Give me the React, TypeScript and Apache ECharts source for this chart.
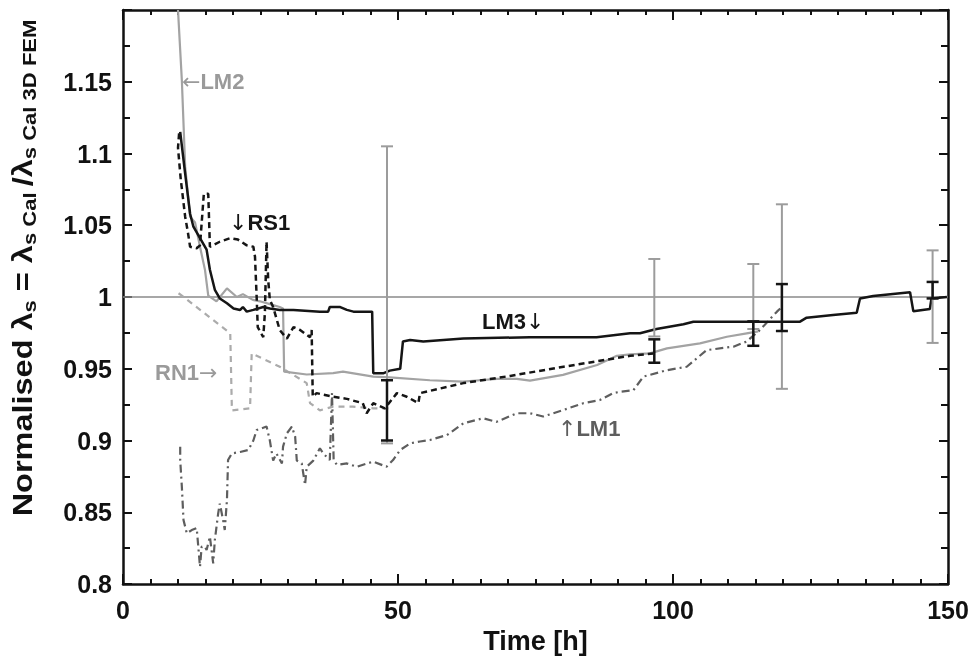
import { useEffect, useRef } from 'react';
import * as echarts from 'echarts';

const FONT = '"Liberation Sans", Arial, Helvetica, sans-serif';
const ARROW_FONT = '"DejaVu Sans", sans-serif';

// [time h, normalised λs]
const lm2: number[][] = [
  [10.0, 1.2], [10.7, 1.151], [11.3, 1.091], [12.2, 1.056], [13.1, 1.052], [14.0, 1.035], [14.9, 1.019],
  [15.5, 1.001], [17.0, 0.997], [18.9, 1.006], [20.7, 1.0], [21.8, 1.002], [23.6, 0.998], [24.9, 0.997],
  [26.7, 0.995], [28.5, 0.993], [29.1, 0.992], [29.3, 0.948], [33.4, 0.946], [38.2, 0.947], [40.0, 0.948],
  [45.5, 0.9445], [48.5, 0.944], [55.8, 0.942], [61.8, 0.941], [64.9, 0.942], [68.0, 0.943], [71.6, 0.943],
  [74.0, 0.9417], [80.0, 0.9457], [86.2, 0.9526], [89.8, 0.959], [92.2, 0.96], [95.8, 0.9607], [98.9, 0.9642],
  [104.9, 0.9677], [109.8, 0.9723], [113.4, 0.9747], [115.5, 0.976],
];

const lm3: number[][] = [
  [10.4, 1.115], [11.3, 1.086], [12.2, 1.058], [12.8, 1.049], [14.0, 1.041], [15.2, 1.033], [15.8, 1.019],
  [16.7, 1.005], [17.6, 0.999], [18.9, 0.9956], [20.1, 0.992], [21.3, 0.991], [21.8, 0.993], [22.5, 0.9898],
  [23.7, 0.991], [25.5, 0.993], [26.7, 0.992], [28.5, 0.991], [31.0, 0.991], [35.8, 0.9898], [37.3, 0.9898],
  [37.6, 0.993], [39.5, 0.993], [40.7, 0.991], [41.9, 0.9898], [45.3, 0.9898], [45.5, 0.9468], [47.3, 0.9468],
  [48.5, 0.9487], [50.4, 0.95], [50.9, 0.969], [52.2, 0.97], [54.6, 0.969], [61.9, 0.971], [74.0, 0.972],
  [86.1, 0.972], [92.2, 0.9747], [94.0, 0.9747], [97.0, 0.9777], [101.9, 0.981], [103.7, 0.9828],
  [123.1, 0.9828], [124.3, 0.9856], [129.1, 0.9875], [133.4, 0.989], [134.0, 0.999], [136.4, 1.0007],
  [143.1, 1.0033], [143.7, 0.99], [146.7, 0.9916], [147.0, 0.999], [149.8, 1.0],
];

const rs1: number[][] = [
  [10.2, 1.114], [10.0, 1.104], [10.5, 1.082], [11.3, 1.056], [11.8, 1.045], [12.2, 1.035], [13.4, 1.034],
  [14.0, 1.036], [14.7, 1.072], [15.5, 1.072], [15.8, 1.035], [17.6, 1.0385], [19.5, 1.041], [20.9, 1.04],
  [22.5, 1.036], [23.7, 1.035], [24.0, 1.028], [24.3, 1.0], [24.5, 0.979], [25.5, 0.972], [25.8, 0.989],
  [26.1, 1.0385], [26.4, 1.012], [26.7, 0.998], [27.3, 0.993], [28.5, 0.977], [29.8, 0.971], [31.0, 0.979],
  [32.2, 0.977], [34.0, 0.972], [34.3, 0.977], [34.5, 0.9305], [35.2, 0.933], [38.2, 0.9305], [40.7, 0.929],
  [43.6, 0.926], [44.3, 0.919], [45.5, 0.926], [47.6, 0.9224], [49.8, 0.933], [51.6, 0.9305], [53.7, 0.926],
  [54.0, 0.933], [61.9, 0.94], [70.4, 0.945], [80.1, 0.9514], [92.2, 0.959], [96.4, 0.9607],
];

const rn1: number[][] = [
  [10.1, 1.0026], [10.7, 1.001], [19.5, 0.9747], [19.8, 0.921], [23.1, 0.9224], [23.4, 0.9607],
  [28.5, 0.9514], [33.4, 0.94], [34.0, 0.926], [35.8, 0.921], [38.2, 0.9236], [41.8, 0.9236],
  [45.5, 0.9224], [48.5, 0.9224],
];

const lm1: number[][] = [
  [10.4, 0.8957], [10.4, 0.8864], [10.7, 0.8678], [11.0, 0.8446], [11.6, 0.8353], [12.5, 0.8376], [13.4, 0.839],
  [14.0, 0.812], [14.3, 0.826], [14.9, 0.826], [15.2, 0.8237], [15.8, 0.833], [16.4, 0.8144], [16.7, 0.8307],
  [17.3, 0.849], [17.6, 0.856], [18.2, 0.8446], [18.5, 0.8376], [18.9, 0.8585], [19.1, 0.8864], [19.8, 0.891],
  [21.3, 0.892], [22.8, 0.8934], [23.7, 0.9], [24.3, 0.9073], [25.2, 0.9085], [26.1, 0.9097], [26.7, 0.9],
  [27.3, 0.886], [27.9, 0.891], [28.9, 0.884], [29.1, 0.8957], [29.8, 0.905], [30.7, 0.9097], [31.3, 0.9027],
  [31.6, 0.886], [32.5, 0.884], [33.1, 0.869], [33.4, 0.8817], [34.6, 0.886], [35.8, 0.8946], [36.4, 0.891],
  [37.6, 0.8864], [38.0, 0.933], [38.3, 0.8864], [38.9, 0.883], [40.7, 0.884], [42.5, 0.8817], [45.5, 0.8853],
  [47.9, 0.8817], [49.1, 0.8864], [50.4, 0.8934], [52.2, 0.898], [54.0, 0.8993], [55.8, 0.9003], [58.9, 0.9038],
  [61.9, 0.912], [65.5, 0.9155], [67.9, 0.913], [71.6, 0.919], [74.0, 0.919], [76.4, 0.9167], [80.1, 0.9213],
  [83.7, 0.926], [86.7, 0.9282], [89.1, 0.933], [90.4, 0.934], [92.8, 0.935], [94.6, 0.9445], [98.9, 0.949],
  [102.5, 0.9514], [106.1, 0.963], [111.0, 0.9654], [113.4, 0.969], [115.8, 0.977], [118.9, 0.9898], [119.5, 0.992],
];

// [time h, low, high]
const greyErrors: number[][] = [
  [48, 0.898, 1.105], [96.6, 0.9725, 1.0265], [114.6, 0.9777, 1.023], [119.8, 0.936, 1.0646], [147.2, 0.968, 1.0325],
];
const blackErrors: number[][] = [
  [48, 0.9, 0.942], [96.6, 0.9542, 0.9705], [114.6, 0.966, 0.983], [119.8, 0.9763, 1.009], [147.2, 0.999, 1.0105],
];

const unityLine: number[][] = [[0, 1], [150, 1]];

const xMin = 0, xMax = 150, xInterval = 50;
const yMin = 0.8, yMax = 1.2, yInterval = 0.05;

export default function App() {
  const ref = useRef<HTMLDivElement>(null);

  useEffect(() => {
    const chart = echarts.init(ref.current as HTMLDivElement, null, { renderer: 'svg' });

    const lineSeries = (name: string, data: number[][], color: string, width: number, type: any, z = 3) => ({
      type: 'line',
      name,
      data,
      symbol: 'none',
      showSymbol: false,
      lineStyle: { color, width, type },
      z,
      silent: true,
    });

    const errSeries = (name: string, data: number[][], color: string, width: number, cap: number, z: number) => ({
      type: 'custom',
      name,
      data,
      encode: { x: 0, y: [1, 2] },
      z,
      silent: true,
      renderItem: (_p: any, api: any) => {
        const x = api.value(0);
        const lo = api.value(1);
        const hi = api.value(2);
        const a = api.coord([x, hi]);
        const b = api.coord([x, lo]);
        const st = () => ({ stroke: color, lineWidth: width, fill: 'none' });
        return {
          type: 'group',
          children: [
            { type: 'line', shape: { x1: a[0], y1: a[1], x2: b[0], y2: b[1] }, style: st() },
            { type: 'line', shape: { x1: a[0] - cap, y1: a[1], x2: a[0] + cap, y2: a[1] }, style: st() },
            { type: 'line', shape: { x1: b[0] - cap, y1: b[1], x2: b[0] + cap, y2: b[1] }, style: st() },
          ],
        };
      },
    });

    const tick = (len: number) => ({ show: true, inside: true, length: len, lineStyle: { color: '#111', width: 2 } });
    const minor = (n: number, len: number) => ({ show: true, splitNumber: n, length: len, lineStyle: { color: '#111', width: 2 } });
    const axLine = (onZero: boolean) => ({ show: true, onZero, lineStyle: { color: '#111', width: 2.5 } });

    const label = (x: number, y: number, arrowFirst: boolean, arrow: string, name: string, color: string) => ({
      type: 'text',
      x,
      y,
      z: 100,
      style: {
        text: arrowFirst ? `{a|${arrow}}{b|${name}}` : `{b|${name}}{a|${arrow}}`,
        rich: {
          a: { fontSize: 22, fontWeight: 'normal', fontFamily: ARROW_FONT, fill: color, color },
          b: { fontSize: 22, fontWeight: 'bold', fontFamily: FONT, fill: color, color },
        },
        fill: color,
        textAlign: 'left',
        align: 'left',
        textVerticalAlign: 'middle',
        verticalAlign: 'middle',
      },
    });

    chart.setOption({
      animation: false,
      grid: { left: 123, right: 26, top: 10, bottom: 75 },
      xAxis: [
        {
          type: 'value', min: xMin, max: xMax, interval: xInterval, position: 'bottom',
          axisLine: axLine(true),
          axisTick: tick(10),
          minorTick: minor(10, 5),
          splitLine: { show: false },
          axisLabel: { show: true, fontSize: 25, fontWeight: 'bold', fontFamily: FONT, color: '#111', margin: 13 },
          name: 'Time [h]',
          nameLocation: 'middle',
          nameGap: 43,
          nameTextStyle: { fontSize: 27, fontWeight: 'bold', fontFamily: FONT, color: '#111' },
        },
        {
          type: 'value', min: xMin, max: xMax, interval: xInterval, position: 'top',
          axisLine: axLine(true),
          axisTick: tick(10),
          minorTick: minor(10, 5),
          splitLine: { show: false },
          axisLabel: { show: false },
        },
      ],
      yAxis: [
        {
          type: 'value', min: yMin, max: yMax, interval: yInterval, position: 'left',
          axisLine: axLine(true),
          axisTick: tick(9),
          minorTick: minor(2, 7),
          splitLine: { show: false },
          axisLabel: {
            show: true,
            fontSize: 25,
            fontWeight: 'bold',
            fontFamily: FONT,
            color: '#111',
            margin: 11,
            formatter: (v: number) => (v > yMax - 0.001 ? '' : String(Math.round(v * 100) / 100)),
          },
        },
        {
          type: 'value', min: yMin, max: yMax, interval: yInterval, position: 'right',
          axisLine: axLine(false),
          axisTick: tick(9),
          minorTick: minor(2, 7),
          splitLine: { show: false },
          axisLabel: { show: false },
        },
      ],
      series: [
        lineSeries('unity', unityLine, '#8a8a8a', 1.6, 'solid', 2),
        lineSeries('LM1', lm1, '#5e5e5e', 2.2, [8, 4, 2, 4]),
        lineSeries('RN1', rn1, '#ababab', 2.2, [6, 5]),
        lineSeries('LM2', lm2, '#a3a3a3', 2.2, 'solid'),
        lineSeries('RS1', rs1, '#151515', 2.5, [6, 4]),
        lineSeries('LM3', lm3, '#151515', 2.5, 'solid'),
        errSeries('grey error', greyErrors, '#9c9c9c', 2, 6, 6),
        errSeries('black error', blackErrors, '#151515', 2.5, 6, 7),
      ],
      graphic: [
        label(182, 81, true, '←', 'LM2', '#9a9a9a'),
        label(229, 222, true, '↓', 'RS1', '#151515'),
        label(155, 372, false, '→', 'RN1', '#9a9a9a'),
        label(482, 321, false, '↓', 'LM3', '#151515'),
        label(558, 428, true, '↑', 'LM1', '#5e5e5e'),
        {
          type: 'text',
          x: 22,
          y: 268,
          rotation: Math.PI / 2,
          scaleX: 1.16,
          z: 100,
          style: {
            text: '{m|Normalised λ}{s|s}{m| = λ}{s|s Cal }{m|/λ}{s|s Cal 3D FEM}',
            rich: {
              m: { fontSize: 28, fontWeight: 'bold', fontFamily: FONT, fill: '#111', color: '#111', lineHeight: 34 },
              s: { fontSize: 19, fontWeight: 'bold', fontFamily: FONT, fill: '#111', color: '#111', lineHeight: 2, verticalAlign: 'bottom' },
            },
            fill: '#111',
            textAlign: 'center',
            align: 'center',
            textVerticalAlign: 'middle',
            verticalAlign: 'middle',
          },
        },
      ],
    });

    return () => chart.dispose();
  }, []);

  return <div ref={ref} style={{ position: 'fixed', left: 0, top: 0, width: 974, height: 659 }} />;
}
